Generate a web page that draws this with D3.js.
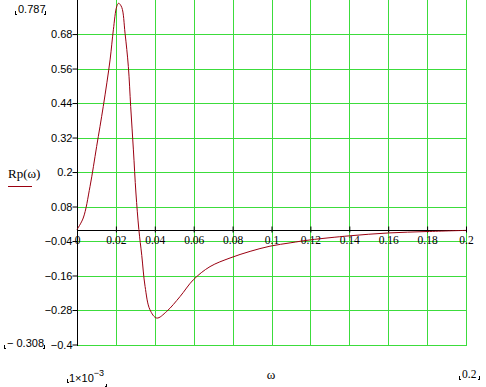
<!DOCTYPE html>
<html lang="en">
<head>
  <meta charset="UTF-8">
  <title>Rp(ω)</title>
  <script src="https://d3js.org/d3.v7.min.js"></script>
  <style>
    body { margin: 0; background: #fff; }
    .grid { stroke: #3cdc3c; stroke-width: 1; shape-rendering: crispEdges; }
    .axisline { stroke: #000; stroke-width: 1; shape-rendering: crispEdges; }
    .ylab { font-family: "Liberation Sans", Arial, sans-serif; font-size: 11px; fill: #000; }
    .xlab { font-family: "Liberation Serif", "Times New Roman", serif; font-size: 11.5px; fill: #000; }
    .serif { font-family: "Liberation Serif", "Times New Roman", serif; font-size: 13px; fill: #000; }
    .mark { stroke: #000; stroke-width: 1; fill: none; shape-rendering: crispEdges; }
    .curve { fill: none; stroke: #9a0010; stroke-width: 1; }
  </style>
</head>
<body>
  <div id="chart"></div>
  <script>
    // data
    const omega = [0, 0.0032, 0.0067, 0.0101, 0.0135, 0.017, 0.0187, 0.0204, 0.0214, 0.023, 0.0247,
                   0.0264, 0.0276, 0.029, 0.0303, 0.0318, 0.0333, 0.035, 0.0375, 0.041, 0.0461,
                   0.053, 0.0598, 0.0684, 0.0787, 0.089, 0.0992, 0.11, 0.12, 0.14, 0.16, 0.18, 0.2];
    const rp = [0, 0.04, 0.15, 0.289, 0.428, 0.59, 0.695, 0.775, 0.787, 0.773, 0.683,
                0.567, 0.428, 0.277, 0.127, 0, -0.09, -0.198, -0.279, -0.308, -0.285,
                -0.233, -0.175, -0.129, -0.099, -0.076, -0.058, -0.046, -0.036, -0.022, -0.012, -0.007, -0.003];
    const xTicks = [0, 0.02, 0.04, 0.06, 0.08, 0.1, 0.12, 0.14, 0.16, 0.18, 0.2];
    const yTicks = [0.68, 0.56, 0.44, 0.32, 0.2, 0.08, -0.04, -0.16, -0.28, -0.4];
    const xMin = 0, xMax = 0.2, yMin = -0.4, yMax = 0.787;

    const svg = d3.select("#chart").append("svg")
      .attr("width", 486).attr("height", 387);

    const x = d3.scaleLinear().domain([xMin, xMax]).range([77, 466]);
    const y = d3.scaleLinear().domain([yMin, yMax]).range([344.5, 3.3]);

    // grid
    svg.selectAll(".vgrid").data(xTicks.slice(1)).enter().append("line")
      .attr("class", "grid")
      .attr("x1", d => Math.round(x(d)) + 0.5).attr("x2", d => Math.round(x(d)) + 0.5)
      .attr("y1", 0).attr("y2", Math.round(y(yMin)) + 0.5);
    svg.selectAll(".hgrid").data(yTicks).enter().append("line")
      .attr("class", "grid")
      .attr("x1", x(xMin)).attr("x2", Math.round(x(xMax)) + 0.5)
      .attr("y1", d => Math.round(y(d)) + 0.5).attr("y2", d => Math.round(y(d)) + 0.5);

    // y axis
    const yAxis = svg.append("g")
      .attr("transform", `translate(${Math.round(x(0)) + 0.5},0)`)
      .call(d3.axisLeft(y).tickValues(yTicks).tickSize(5).tickSizeOuter(0)
        .tickFormat(d => d3.format("")(d).replace("-", "\u2212")));
    yAxis.select(".domain").remove();
    yAxis.selectAll("line").attr("stroke", "#000");
    yAxis.selectAll("text").attr("class", "ylab").attr("x", -5).attr("font-size", null).attr("font-family", null);
    svg.append("line").attr("class", "axisline")
      .attr("x1", Math.round(x(0)) + 0.5).attr("x2", Math.round(x(0)) + 0.5)
      .attr("y1", 0).attr("y2", Math.round(y(yMin)) + 1);

    // x axis at zero
    const y0 = Math.round(y(0)) + 0.5;
    const xAxis = svg.append("g")
      .attr("transform", `translate(0,${y0})`)
      .call(d3.axisBottom(x).tickValues(xTicks).tickSize(-4).tickSizeOuter(0).tickFormat(d3.format("")));
    xAxis.select(".domain").remove();
    xAxis.selectAll("line").attr("stroke", "#000").attr("y2", -4).attr("y1", 2);
    xAxis.selectAll("text").attr("class", "xlab").attr("y", 5).attr("font-size", null).attr("font-family", null);
    svg.append("line").attr("class", "axisline")
      .attr("x1", x(0)).attr("x2", x(xMax) + 1)
      .attr("y1", y0).attr("y2", y0);

    // curve
    const pts = omega.map((w, i) => [w, rp[i]]);
    svg.append("path").datum(pts)
      .attr("class", "curve")
      .attr("d", d3.line().x(d => x(d[0])).y(d => y(d[1])).curve(d3.curveCatmullRom.alpha(0.5)));

    // legend
    svg.append("text").attr("class", "serif").attr("x", 8).attr("y", 178).text("Rp(\u03c9)");
    svg.append("line").attr("x1", 8).attr("x2", 32).attr("y1", 186.5).attr("y2", 186.5)
      .attr("stroke", "#9a0010").attr("stroke-width", 1);

    // axis title
    svg.append("text").attr("class", "serif").attr("x", 271).attr("y", 379)
      .attr("text-anchor", "middle").text("\u03c9");

    // limit labels with corner marks
    function limit(px, py, w, txt, cls) {
      svg.append("text").attr("class", cls).attr("x", px + 3).attr("y", py).text(txt);
      svg.append("path").attr("class", "mark")
        .attr("d", `M${px + 0.5},${py - 2} V${py + 1.5} H${px + 2}`);
      svg.append("path").attr("class", "mark")
        .attr("d", `M${px + w + 0.5},${py - 2} V${py + 1.5} H${px + w - 1}`);
    }
    limit(15, 13, 30, "0.787", "ylab");
    limit(4, 347, 40, "\u2212 0.308", "ylab");
    limit(459, 378, 20, "0.2", "xlab");

    const e = svg.append("text").attr("class", "ylab").attr("x", 69).attr("y", 382);
    e.append("tspan").text("1\u00d710");
    e.append("tspan").attr("dy", -6).attr("font-size", "9px").text("\u22123");
    svg.append("path").attr("class", "mark").attr("d", "M67.5,379 V382.5 H69");
    svg.append("path").attr("class", "mark").attr("d", "M106.5,384 V386.5 H105");
  </script>
</body>
</html>
